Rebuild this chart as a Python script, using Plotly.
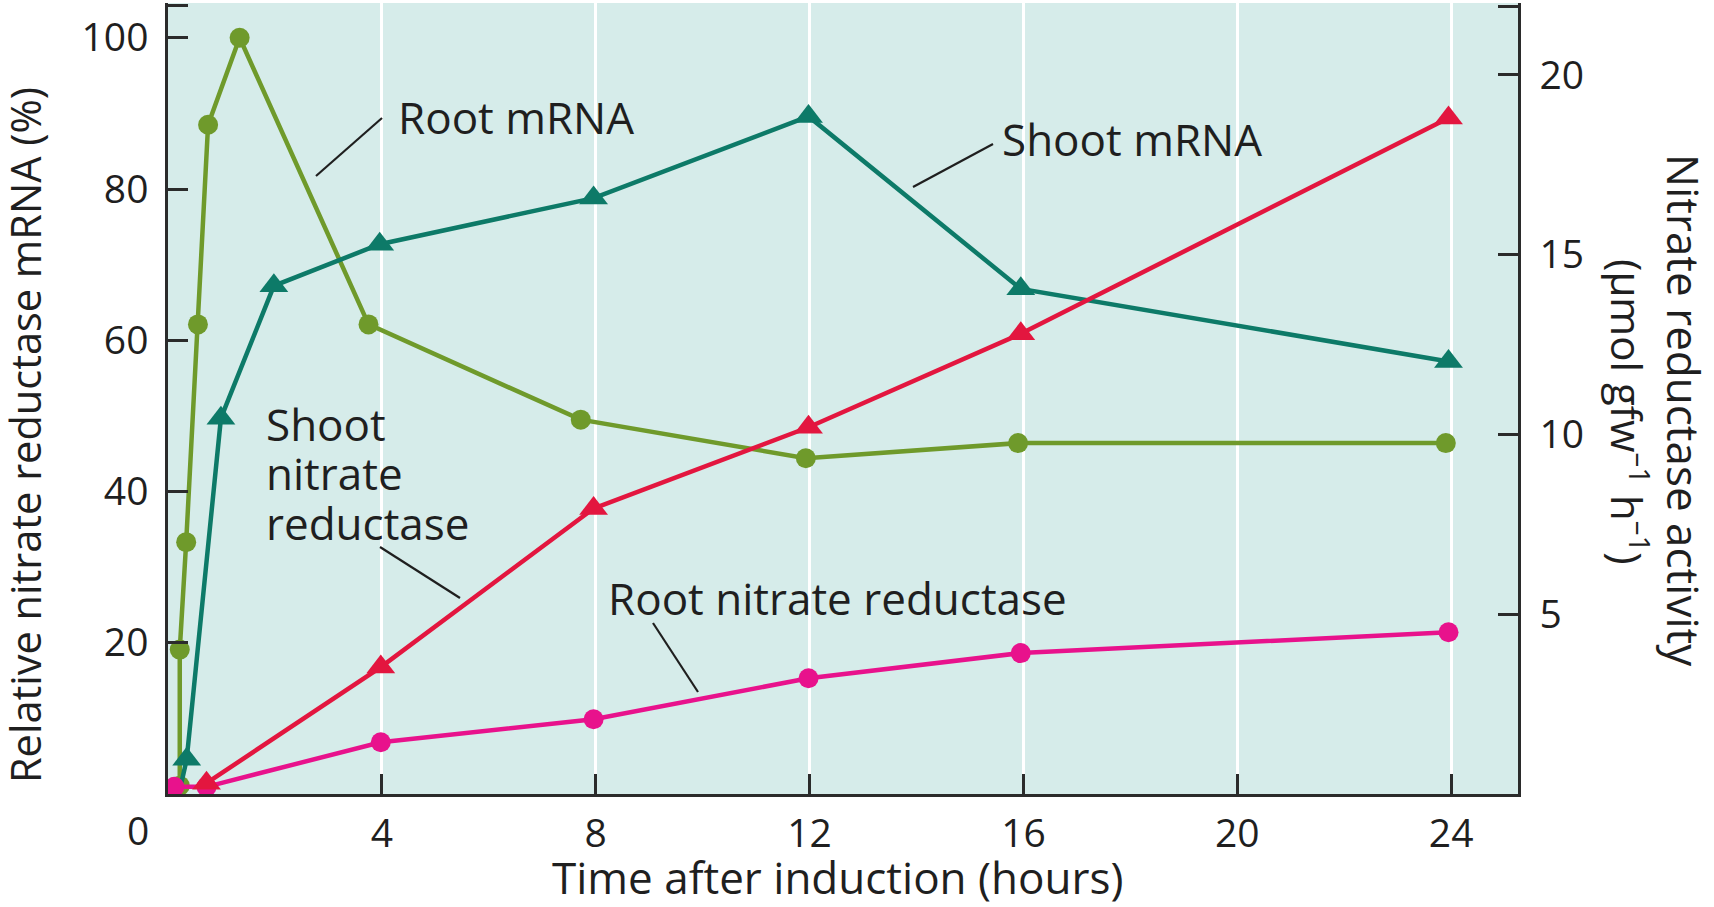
import plotly.graph_objects as go

# ---------------- data ----------------
root_mrna_x = [0.22, 0.22, 0.34, 0.56, 0.75, 1.34, 3.75, 7.72, 11.93, 15.9, 23.9]
root_mrna_y = [1.1, 19.1, 33.3, 62.1, 88.5, 100, 62.1, 49.5, 44.4, 46.4, 46.4]

shoot_mrna_x = [0.22, 0.35, 0.99, 1.98, 3.96, 7.96, 11.98, 15.95, 23.95]
shoot_mrna_y = [0.5, 4.6, 49.7, 67.2, 72.7, 78.8, 89.6, 66.8, 57.2]

shoot_nr_x = [0.72, 3.98, 7.96, 11.98, 15.95, 23.95]
shoot_nr_y = [0.3, 3.53, 7.94, 10.2, 12.8, 18.8]

root_nr_x = [0.12, 0.72, 3.98, 7.96, 11.98, 15.95, 23.95]
root_nr_y = [0.2, 0.2, 1.44, 2.08, 3.22, 3.92, 4.5]

x_ticks = [4, 8, 12, 16, 20, 24]
left_ticks = [20, 40, 60, 80, 100]
right_ticks = [5, 10, 15, 20]

# ---------------- styling ----------------
W, H = 1714, 907
L, R, T, B = 168, 1518, 3, 794   # plot area in pixels
FONT = "Open Sans"
TXT = "#1f1f1f"
AX = "#2b2b2b"
BG = "#d6ecea"
C_ROOT_MRNA = "#6f9a2b"
C_SHOOT_MRNA = "#0d7a68"
C_SHOOT_NR = "#e3163f"
C_ROOT_NR = "#e8128c"


def px(x):
    return (x - L) / (R - L)


def py(y):
    return (B - y) / (B - T)


fig = go.Figure()

fig.add_trace(go.Scatter(
    x=root_mrna_x, y=root_mrna_y, mode="lines+markers",
    line=dict(color=C_ROOT_MRNA, width=4.5),
    marker=dict(symbol="circle", size=20, color=C_ROOT_MRNA, opacity=1, line=dict(width=0)),
    yaxis="y", showlegend=False))

fig.add_trace(go.Scatter(
    x=shoot_mrna_x, y=shoot_mrna_y, mode="lines+markers",
    line=dict(color=C_SHOOT_MRNA, width=4.5),
    marker=dict(symbol="triangle-up", size=[0] + [25] * (len(shoot_mrna_x) - 1),
                color=C_SHOOT_MRNA, opacity=1, line=dict(width=0)),
    yaxis="y", showlegend=False))

fig.add_trace(go.Scatter(
    x=root_nr_x, y=root_nr_y, mode="lines+markers",
    line=dict(color=C_ROOT_NR, width=4.5),
    marker=dict(symbol="circle", size=20, color=C_ROOT_NR, opacity=1, line=dict(width=0)),
    yaxis="y2", showlegend=False))

fig.add_trace(go.Scatter(
    x=shoot_nr_x, y=shoot_nr_y, mode="lines+markers",
    line=dict(color=C_SHOOT_NR, width=4.5),
    marker=dict(symbol="triangle-up", size=25, color=C_SHOOT_NR, opacity=1, line=dict(width=0)),
    yaxis="y2", showlegend=False))

tickfont = dict(family=FONT, size=39, color=TXT)

fig.update_layout(
    width=W, height=H,
    margin=dict(l=L, r=W - R, t=T, b=H - B),
    paper_bgcolor="white", plot_bgcolor=BG,
    font=dict(family=FONT, color=TXT),
    xaxis=dict(
        range=[0, 25.25], tickvals=x_ticks, ticktext=[str(v) for v in x_ticks],
        ticks="inside", ticklen=20, tickwidth=2.5, tickcolor=AX,
        showline=True, linecolor=AX, linewidth=2.5,
        showgrid=True, gridcolor="white", gridwidth=2.5,
        zeroline=False, tickfont=tickfont, ticklabelstandoff=3),
    yaxis=dict(
        range=[0, 104.6], tickvals=left_ticks + [104.3],
        ticktext=[str(v) for v in left_ticks] + [" "],
        ticks="inside", ticklen=20, tickwidth=2.5, tickcolor=AX,
        showline=True, linecolor=AX, linewidth=2.5,
        showgrid=False, zeroline=False, tickfont=tickfont, ticklabelstandoff=9),
    yaxis2=dict(
        range=[0, 22.0], overlaying="y", side="right",
        tickvals=[0] + right_ticks + [21.9],
        ticktext=[" "] + [str(v) for v in right_ticks] + [" "],
        ticks="inside", ticklen=20, tickwidth=2.5, tickcolor=AX,
        showline=True, linecolor=AX, linewidth=2.5,
        showgrid=False, zeroline=False, tickfont=tickfont, ticklabelstandoff=11),
)

afont = dict(family=FONT, size=44, color=TXT)
annotations = [
    dict(text="Root mRNA", x=px(396), y=py(117), xanchor="left", yanchor="middle"),
    dict(text="Shoot mRNA", x=px(1000), y=py(139), xanchor="left", yanchor="middle"),
    dict(text="Shoot", x=px(264), y=py(424), xanchor="left", yanchor="middle"),
    dict(text="nitrate", x=px(264), y=py(473), xanchor="left", yanchor="middle"),
    dict(text="reductase", x=px(264), y=py(523), xanchor="left", yanchor="middle"),
    dict(text="Root nitrate reductase", x=px(606), y=py(598), xanchor="left", yanchor="middle"),
    dict(text="Relative nitrate reductase mRNA (%)", x=px(25), y=py(435),
         xanchor="center", yanchor="middle", textangle=-90,
         font=dict(family=FONT, size=41.5, color=TXT)),
    dict(text="Nitrate reductase activity", x=px(1684), y=py(410),
         xanchor="center", yanchor="middle", textangle=90),
    dict(text="(µmol gfw<sup>–1</sup> h<sup>–1</sup>)", x=px(1629), y=py(412),
         xanchor="center", yanchor="middle", textangle=90,
         font=dict(family=FONT, size=42, color=TXT)),
    dict(text="Time after induction (hours)", x=px(837), y=py(877),
         xanchor="center", yanchor="middle"),
    dict(text="0", x=px(138), y=py(829), xanchor="center", yanchor="middle",
         font=tickfont),
]
for a in annotations:
    a.setdefault("font", afont)
    a.update(xref="paper", yref="paper", showarrow=False)
fig.update_layout(annotations=annotations)

# leader lines from labels to curves
leaders = [
    ((382, 118), (316, 176)),   # Root mRNA
    ((993, 144), (913, 187)),   # Shoot mRNA
    ((380, 547), (460, 598)),   # Shoot nitrate reductase
    ((653, 623), (698, 692)),   # Root nitrate reductase
]
for (x0, y0), (x1, y1) in leaders:
    fig.add_shape(type="line", xref="paper", yref="paper",
                  x0=px(x0), y0=py(y0), x1=px(x1), y1=py(y1),
                  line=dict(color=TXT, width=2.2))

fig.write_html("out.html", config={"displayModeBar": False},
               post_script="document.body.style.margin='0';document.body.style.padding='0';")
